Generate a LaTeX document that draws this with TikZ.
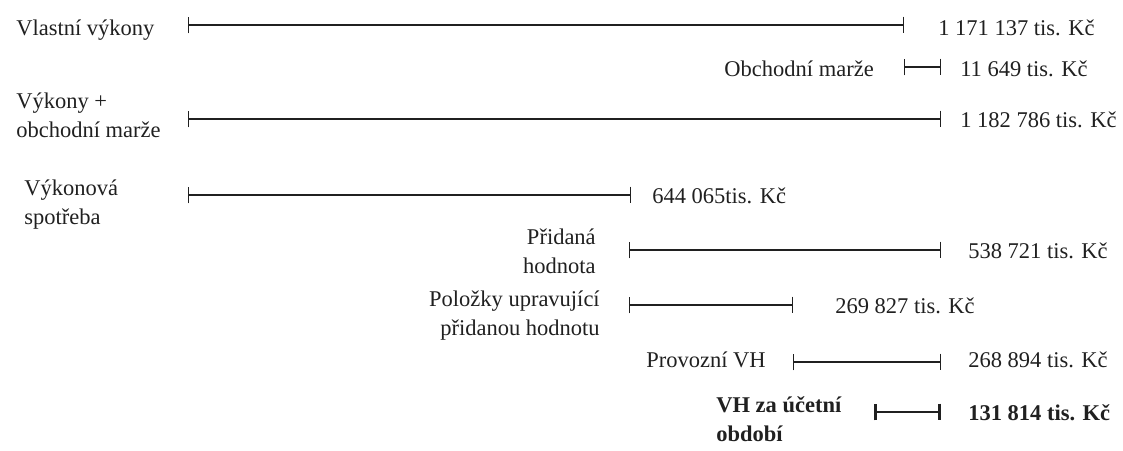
\documentclass[tikz,border=0pt]{standalone}
\usepackage{fontspec}
\setmainfont{Liberation Serif}
\usepackage{xcolor}
\usetikzlibrary{arrows.meta}
\usetikzlibrary{math}
\definecolor{tgray}{RGB}{32,32,32}

\begin{document}
\begin{tikzpicture}[x=0.025cm,y=-0.025cm,
  bar/.style={{Bar[width=12pt]}-{Bar[width=12pt]},line width=0.8pt,color=tgray},
  lbl/.style={inner sep=0,font=\fontsize{16}{20.5}\selectfont,text=tgray}]
\tikzmath{
\xa=188; \xb=904; \xc=941; \xd=629; \xe=793; \xf=874;
}
\useasboundingbox (0,0) rectangle (1123,450);

% vlastni vykony
\coordinate (vv1) at (\xa,25);
\coordinate (vv2) at (\xb,25);
\draw[bar] (vv1) -- (vv2);
\node[lbl,anchor=base west] (vvtxt) at (16,35) {Vlastní výkony};
\node[lbl,anchor=base west] (vvval) at (938,35) {1 171 137 tis. Kč};

% obchodni marze
\coordinate (om1) at (\xb,67);
\coordinate (om2) at (\xc,67);
\draw[bar] (om1) -- (om2);
\node[lbl,anchor=base east] (omtxt) at (874,76) {Obchodní marže};
\node[lbl,anchor=base west] (omval) at (960,76) {11 649 tis. Kč};

% vykony + marze (base = last line)
\coordinate (vm1) at (\xa,119);
\coordinate (vm2) at (\xc,119);
\draw[bar] (vm1) -- (vm2);
\node[lbl,anchor=base west,align=left] (vmtxt) at (16,137) {Výkony +\\obchodní marže};
\node[lbl,anchor=base west] (vmval) at (960,127) {1 182 786 tis. Kč};

% vykonova spotreba
\coordinate (vs1) at (\xa,195);
\coordinate (vs2) at (\xd+2,195);
\draw[bar] (vs1) -- (vs2);
\node[lbl,anchor=base west,align=left] (vstxt) at (24,224) {Výkonová\\spotřeba};
\node[lbl,anchor=base west] (vsval) at (652,203) {644 065tis. Kč};

% pridana hodnota
\coordinate (ph1) at (\xd,250);
\coordinate (ph2) at (\xc,250);
\draw[bar] (ph1) -- (ph2);
\node[lbl,anchor=base east,align=right] (phtxt) at (596,273) {Přidaná\\hodnota};
\node[lbl,anchor=base west] (phval) at (968,258) {538 721 tis. Kč};

% polozky upravujici PH
\coordinate (pu1) at (\xd,305);
\coordinate (pu2) at (\xe,305);
\draw[bar] (pu1) -- (pu2);
\node[lbl,anchor=base east,align=right] (putxt) at (600,335) {Položky upravující\\přidanou hodnotu};
\node[lbl,anchor=base west] (puval) at (835,313) {269 827 tis. Kč};

% provozni VH
\coordinate (pv1) at (\xe,362);
\coordinate (pv2) at (\xc,362);
\draw[bar] (pv1) -- (pv2);
\node[lbl,anchor=base west] (pvtxt) at (646,367) {Provozní VH};
\node[lbl,anchor=base west] (pvval) at (968,367) {268 894 tis. Kč};

% VH za obdobi
\coordinate (vh1) at (\xf,412);
\coordinate (vh2) at (\xc,412);
\draw[bar,line width=2pt] (vh1) -- (vh2);
\node[lbl,anchor=base west,align=left,font=\fontsize{16}{20.5}\selectfont\bfseries] (vhtxt) at (716,441) {VH za účetní\\období};
\node[lbl,anchor=base west,font=\fontsize{16}{20.5}\selectfont\bfseries] (vhval) at (968,420) {131 814 tis. Kč};

\end{tikzpicture}
\end{document}
